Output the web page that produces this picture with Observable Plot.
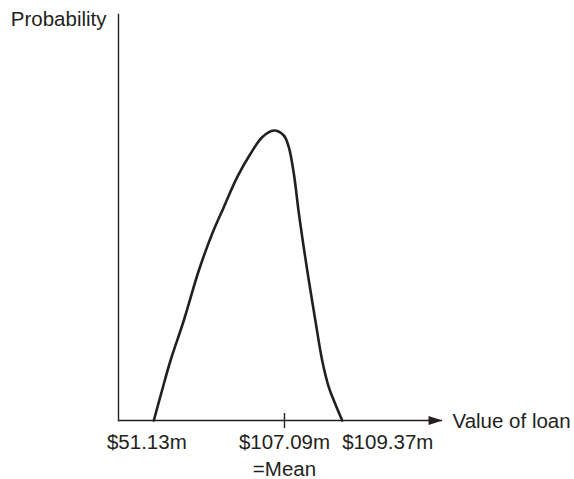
<!DOCTYPE html>
<html>
<head>
<meta charset="utf-8">
<script src="https://cdn.jsdelivr.net/npm/d3@7"></script>
<script src="https://cdn.jsdelivr.net/npm/@observablehq/plot@0.6"></script>
<style>
  html, body { margin: 0; padding: 0; background: #fff; }
  #chart svg { display: block; }
</style>
</head>
<body>
<div id="chart"></div>
<script>
// Loan value (in $m) and schematic probability density
const loanValues = [51.13, 54.64, 58.28, 63.97, 70.40, 76.13, 81.10, 86.84, 92.53, 97.54, 102.51, 106.79,
  107.26, 107.46, 107.66, 107.84, 108.02, 108.18, 108.31, 108.58, 108.84, 109.04, 109.37];
const probabilities = [0, 0.0739, 0.1478, 0.2463, 0.3695, 0.4599, 0.5254, 0.5993, 0.6569, 0.6978, 0.7143, 0.7020,
  0.6732, 0.6076, 0.5091, 0.4310, 0.3571, 0.2956, 0.2463, 0.1478, 0.0820, 0.0493, 0];

const tickValues = [51.13, 107.09, 109.37];
const tickLabels = ["$51.13m", "$107.09m", "$109.37m"];
const meanValue = 107.09;
const meanLabel = "=Mean";
const xTitle = "Value of loan";
const yTitle = "Probability";

const curve = loanValues.map((v, i) => ({value: v, p: probabilities[i]}));

// The original figure is schematic: its value axis is not proportional, so
// values are placed through a piecewise display transform of the x scale.
const axisStops = [0.109, 0.5123, 0.6904];
const piecewise = d3.scaleLinear().domain(tickValues).range(axisStops);

const arrowHead = {
  draw(ctx) {
    ctx.moveTo(0, 0);
    ctx.lineTo(-14, -4.5);
    ctx.lineTo(-14, 4.5);
    ctx.closePath();
  }
};

const ink = "#231f20";
const lbl = {frameAnchor: "bottom", lineAnchor: "bottom", fill: ink};

const chart = Plot.plot({
  width: 574,
  height: 479,
  marginLeft: 118,
  marginRight: 132,
  marginTop: 14,
  marginBottom: 59,
  style: {fontFamily: "'Liberation Sans', Arial, Helvetica, sans-serif", fontSize: "20.5px", background: "#fff", color: ink},
  x: {transform: v => piecewise(v), domain: [0, 1], axis: null},
  y: {domain: [0, 1], axis: null},
  marks: [
    Plot.frame({anchor: "left", stroke: ink, strokeWidth: 1.4}),
    Plot.ruleY([0], {stroke: ink, strokeWidth: 1.4}),
    Plot.dot([0], {frameAnchor: "right", y: d => d, symbol: arrowHead, r: 5, fill: ink, stroke: "none"}),
    Plot.ruleX([meanValue], {y1: 0, y2: 0, insetTop: 8, insetBottom: 7, stroke: ink, strokeWidth: 1.4}),
    Plot.line(curve, {x: "value", y: "p", curve: "catmull-rom", stroke: ink, strokeWidth: 2.6}),
    Plot.text([tickLabels[0]], {...lbl, x: () => tickValues[0], text: d => d, textAnchor: "middle", dx: -7, dy: 28}),
    Plot.text([tickLabels[1]], {...lbl, x: () => tickValues[1], text: d => d, textAnchor: "middle", dy: 28}),
    Plot.text([tickLabels[2]], {...lbl, x: () => tickValues[2], text: d => d, textAnchor: "start", dy: 28}),
    Plot.text([meanLabel], {...lbl, x: () => meanValue, text: d => d, textAnchor: "middle", dy: 55}),
    Plot.text([xTitle], {text: d => d, frameAnchor: "bottom-right", textAnchor: "start", lineAnchor: "middle", dx: 10, dy: 1, fill: ink}),
    Plot.text([yTitle], {text: d => d, frameAnchor: "top-left", textAnchor: "end", lineAnchor: "bottom", dx: -12, dy: 11, fill: ink})
  ]
});

document.getElementById("chart").appendChild(chart);
</script>
</body>
</html>
